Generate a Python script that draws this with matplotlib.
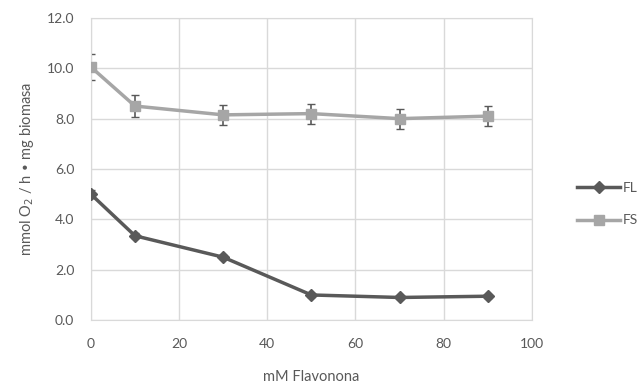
import matplotlib.pyplot as plt

plt.rcParams['font.family'] = ['Lato', 'DejaVu Sans']

x = [0, 10, 30, 50, 70, 90]
fl = [5.0, 3.35, 2.5, 1.0, 0.9, 0.95]
fl_err = [0.15, 0.1, 0.08, 0.08, 0.06, 0.06]
fs = [10.05, 8.5, 8.15, 8.2, 8.0, 8.1]
fs_err = [0.5, 0.45, 0.4, 0.4, 0.4, 0.4]

fig = plt.figure(figsize=(6.4, 3.89), dpi=100)
ax = fig.add_axes([0.142, 0.177, 0.689, 0.777])

gris_osc = '#595959'
gris_cla = '#a6a6a6'

# barras de error
ax.errorbar(x, fl, yerr=fl_err, fmt='none', ecolor=gris_osc, capsize=3, elinewidth=1.2, zorder=2)
ax.errorbar(x, fs, yerr=fs_err, fmt='none', ecolor=gris_osc, capsize=3, elinewidth=1.2, zorder=2)
# series
l1, = ax.plot(x, fl, color=gris_osc, marker='D', markersize=6, linewidth=2.5, label='FL', zorder=3)
l2, = ax.plot(x, fs, color=gris_cla, marker='s', markersize=7, linewidth=2.5, label='FS', zorder=3)

ax.set_xlim(0, 100)
ax.set_ylim(0, 12)
ax.set_xticks(range(0, 101, 20))
ax.set_yticks([0, 2, 4, 6, 8, 10, 12])
ax.set_yticklabels(['%.1f' % v for v in [0, 2, 4, 6, 8, 10, 12]])
ax.grid(True, color='#d9d9d9', linewidth=1)
ax.set_axisbelow(True)
for s in ax.spines.values():
    s.set_color('#d9d9d9')
ax.tick_params(length=0, colors=gris_osc, labelsize=10)
ax.tick_params(axis='x', pad=13)
ax.tick_params(axis='y', pad=12)

ax.set_xlabel('mM Flavonona', color=gris_osc, fontsize=10.5, labelpad=14)
ax.set_ylabel(r'mmol O$_2$ / h • mg biomasa', color=gris_osc, fontsize=10.5, labelpad=8)

fig.legend(handles=[l1, l2], loc='center left', bbox_to_anchor=(577 / 640, 1 - 204 / 389),
           frameon=False, fontsize=10, labelcolor=gris_osc, handlelength=3.1,
           handletextpad=0.2, labelspacing=1.5, borderpad=0, borderaxespad=0)

fig.savefig('out.png', dpi=100)
